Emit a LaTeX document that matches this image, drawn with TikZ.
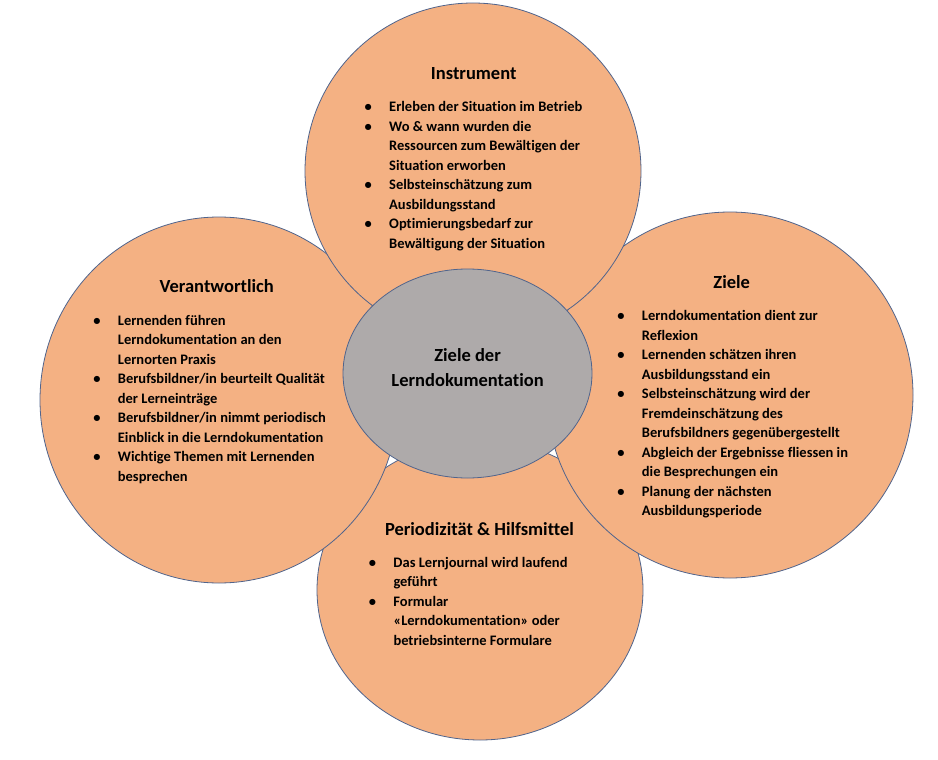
\documentclass[tikz,border=0pt]{standalone}
\usepackage{fontspec}
\setmainfont{Carlito}[Ligatures={NoCommon}]
\usetikzlibrary{shapes.geometric}
\definecolor{petal}{HTML}{F4B183}
\definecolor{core}{HTML}{AEAAAA}
\definecolor{rim}{HTML}{50648C}
\tikzset{
  petalshape/.style={ellipse, draw=rim, line width=0.8pt, fill=petal, inner sep=0pt},
  coreshape/.style={ellipse, draw=rim, line width=0.8pt, fill=core, inner sep=0pt},
  titletext/.style={anchor=base, font=\fontsize{18.5}{22}\selectfont\bfseries, inner sep=0pt},
  listtext/.style={anchor=base west, font=\fontsize{14.5}{19.5}\selectfont\bfseries, inner sep=0pt},
  centertext/.style={anchor=base, font=\fontsize{18.5}{25}\selectfont\bfseries, inner sep=0pt}
}
\newcommand{\bitem}{\llap{\makebox[42pt]{\textbullet}}}
\begin{document}
\begin{tikzpicture}[x=1pt,y=-1pt]
\useasboundingbox[fill=white] (0,0) rectangle (938,760);
% petals
\node[petalshape, minimum width=326pt, minimum height=300pt] (per) at (480,590) {};
\node[petalshape, minimum width=358pt, minimum height=366pt] (ver) at (219,400) {};
\node[petalshape, minimum width=366pt, minimum height=366pt] (zie) at (730,395) {};
\node[petalshape, minimum width=336pt, minimum height=336pt] (ins) at (473,171) {};
% core
\node[coreshape, minimum width=249pt, minimum height=209pt] (core) at (467.5,373.5) {};
% titles
\node[titletext] (insT) at (473.7,79.3) {Instrument};
\node[titletext] (verT) at (216.7,292.7) {Verantwortlich};
\node[titletext] (zieT) at (731.7,288.3) {Ziele};
\node[titletext] (perT) at (479.5,535) {Periodizität \& Hilfsmittel};
\node[centertext] (coreT) at (467.6,361.7) {\begin{tabular}[t]{@{}c@{}}Ziele der\\Lerndokumentation\end{tabular}};
% lists
\node[listtext] (insL) at (389,111.7) {\begin{tabular}[t]{@{}l@{}}
\bitem Erleben der Situation im Betrieb\\
\bitem Wo \& wann wurden die\\
Ressourcen zum Bewältigen der\\
Situation erworben\\
\bitem Selbsteinschätzung zum\\
Ausbildungsstand\\
\bitem Optimierungsbedarf zur\\
Bewältigung der Situation
\end{tabular}};
\node[listtext] (verL) at (117.7,325) {\begin{tabular}[t]{@{}l@{}}
\bitem Lernenden führen\\
Lerndokumentation an den\\
Lernorten Praxis\\
\bitem Berufsbildner/in beurteilt Qualität\\
der Lerneinträge\\
\bitem Berufsbildner/in nimmt periodisch\\
Einblick in die Lerndokumentation\\
\bitem Wichtige Themen mit Lernenden\\
besprechen
\end{tabular}};
\node[listtext] (zieL) at (641.7,320.7) {\begin{tabular}[t]{@{}l@{}}
\bitem Lerndokumentation dient zur\\
Reflexion\\
\bitem Lernenden schätzen ihren\\
Ausbildungsstand ein\\
\bitem Selbsteinschätzung wird der\\
Fremdeinschätzung des\\
Berufsbildners gegenübergestellt\\
\bitem Abgleich der Ergebnisse fliessen in\\
die Besprechungen ein\\
\bitem Planung der nächsten\\
Ausbildungsperiode
\end{tabular}};
\node[listtext] (perL) at (393.3,567.3) {\begin{tabular}[t]{@{}l@{}}
\bitem Das Lernjournal wird laufend\\
geführt\\
\bitem Formular\\
«Lerndokumentation» oder\\
betriebsinterne Formulare
\end{tabular}};
\end{tikzpicture}
\end{document}
